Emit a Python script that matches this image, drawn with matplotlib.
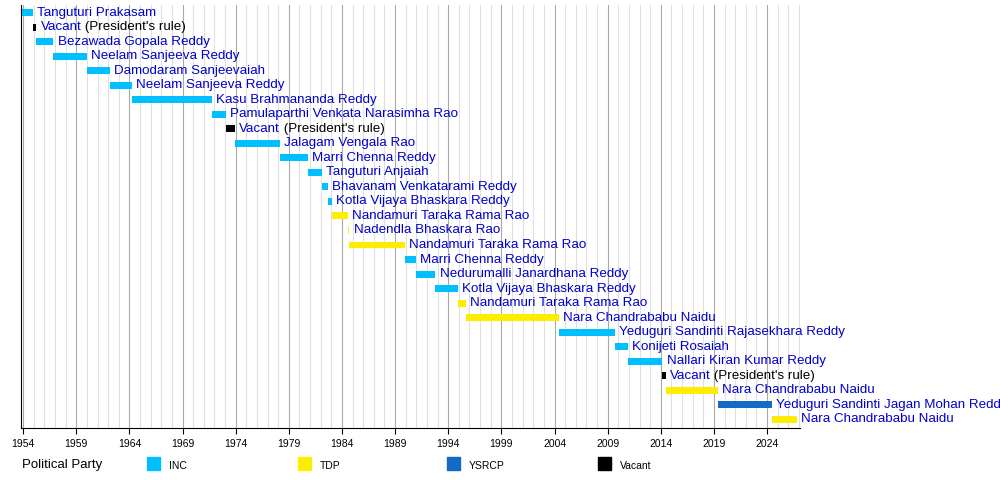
import matplotlib
matplotlib.use("Agg")
import matplotlib.pyplot as plt
from matplotlib.patches import Rectangle

names = ["Tanguturi Prakasam","Vacant","Bezawada Gopala Reddy","Neelam Sanjeeva Reddy","Damodaram Sanjeevaiah",
 "Neelam Sanjeeva Reddy","Kasu Brahmananda Reddy","Pamulaparthi Venkata Narasimha Rao","Vacant","Jalagam Vengala Rao",
 "Marri Chenna Reddy","Tanguturi Anjaiah","Bhavanam Venkatarami Reddy","Kotla Vijaya Bhaskara Reddy","Nandamuri Taraka Rama Rao",
 "Nadendla Bhaskara Rao","Nandamuri Taraka Rama Rao","Marri Chenna Reddy","Nedurumalli Janardhana Reddy","Kotla Vijaya Bhaskara Reddy",
 "Nandamuri Taraka Rama Rao","Nara Chandrababu Naidu","Yeduguri Sandinti Rajasekhara Reddy","Konijeti Rosaiah","Nallari Kiran Kumar Reddy",
 "Vacant","Nara Chandrababu Naidu","Yeduguri Sandinti Jagan Mohan Reddy","Nara Chandrababu Naidu"]
starts = [1953.75,1954.9,1955.25,1956.85,1960.0,1962.2,1964.2,1971.75,1973.05,1973.95,1978.2,1980.8,1982.15,1982.7,1983.03,
          1984.6,1984.7,1989.9,1990.95,1992.8,1994.95,1995.7,2004.4,2009.7,2010.9,2014.15,2014.45,2019.4,2024.45]
ends = [1954.9,1955.25,1956.85,1960.0,1962.2,1964.2,1971.75,1973.05,1973.95,1978.2,1980.8,1982.15,1982.7,1983.03,1984.6,
        1984.7,1989.9,1990.95,1992.8,1994.95,1995.7,2004.4,2009.7,2010.9,2014.15,2014.45,2019.4,2024.45,2026.8]
parties = ["INC","Vacant","INC","INC","INC","INC","INC","INC","Vacant","INC","INC","INC","INC","INC","TDP",
           "TDP","TDP","INC","INC","INC","TDP","TDP","INC","INC","INC","Vacant","TDP","YSRCP","TDP"]
party_names = ["INC","TDP","YSRCP","Vacant"]
colors = {"INC":"#00BFFF","TDP":"#FFED00","YSRCP":"#1569C7","Vacant":"#000000"}
tick_years = list(range(1954, 2025, 5))

plt.rcParams['font.family'] = ['Liberation Sans', 'DejaVu Sans']
fig = plt.figure(figsize=(10, 4.8), dpi=100)
ax = fig.add_axes([0.021, 0.108, 0.779, 0.882])
ax.set_xlim(1953.8, 2027.1)
ax.set_ylim(28.62, -0.55)
for y in range(1954, 2028):
    ax.axvline(y, color="#aaaaaa" if (y-1954) % 5 == 0 else "#e0e0e0", lw=0.8, zorder=0)
fs = 9.6
for i, (n, s, e, p) in enumerate(zip(names, starts, ends, parties)):
    ax.barh(i, e - s, left=s, height=0.48, color=colors[p], zorder=2)
    t = ax.annotate(n, (e, i), xytext=(3, 0), textcoords="offset points", va="center",
                    fontsize=fs, color="#0000cc", annotation_clip=False)
    if n == "Vacant":
        ax.annotate(" (President's rule)", xy=(1, 0.5), xycoords=t, va="center", ha="left",
                    fontsize=fs, color="black", annotation_clip=False)
ax.set_xticks(tick_years)
ax.set_xticklabels([str(y) for y in tick_years], fontsize=7.5)
ax.set_yticks([])
for sp in ["top", "right"]:
    ax.spines[sp].set_visible(False)
ax.tick_params(axis="x", length=4)

fig.text(0.022, 0.032, "Political Party", fontsize=9.5, va="center")
lx = [0.147, 0.298, 0.447, 0.598]
for x, p in zip(lx, party_names):
    fig.patches.append(Rectangle((x, 0.021), 0.013, 0.026, transform=fig.transFigure, color=colors[p]))
    fig.text(x + 0.022, 0.029, p, fontsize=7.5, va="center")
fig.savefig("out.png", dpi=100)
